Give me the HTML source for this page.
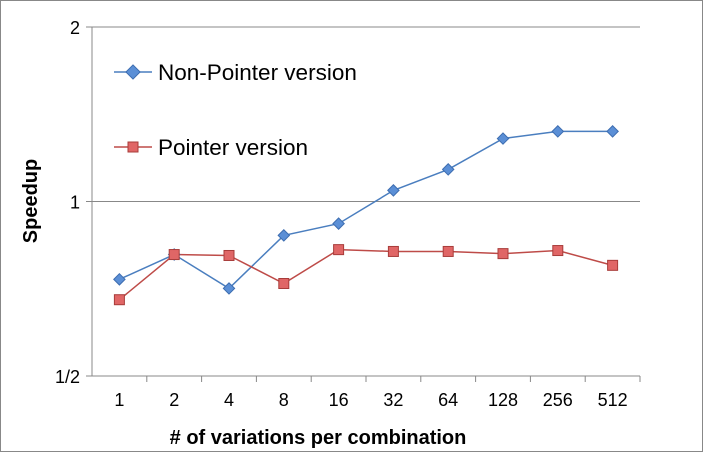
<!DOCTYPE html>
<html><head><meta charset="utf-8"><style>
html,body{margin:0;padding:0;background:#fff;}
svg{display:block;font-family:"Liberation Sans",sans-serif;}
</style></head><body>
<svg id="chart" width="703" height="452" viewBox="0 0 703 452">
<rect x="0.5" y="0.5" width="702" height="451" fill="#fff" stroke="#888"/>
<g id="grid"></g><g id="axes"></g><g id="series"></g>
<g>
<line x1="114" y1="72" x2="152" y2="72" stroke="#4a7ebf" stroke-width="1.5"/>
<rect x="128" y="67" width="10" height="10" transform="rotate(45 133 72)" fill="#5b8fd6" stroke="#3d6db0"/>
<text x="158" y="80" font-size="22.5" fill="#000">Non-Pointer version</text>
<line x1="114" y1="147" x2="152" y2="147" stroke="#be4b48" stroke-width="1.5"/>
<rect x="128" y="142" width="10" height="10" fill="#e06666" stroke="#a83c3a"/>
<text x="158" y="155" font-size="22.5" fill="#000">Pointer version</text>
</g>
<text x="318" y="444" font-size="20" font-weight="bold" text-anchor="middle"># of variations per combination</text>
<text transform="translate(37 201) rotate(-90)" font-size="20" font-weight="bold" text-anchor="middle">Speedup</text>
</svg>
<script>
const categories=["1","2","4","8","16","32","64","128","256","512"];
const nonPointer=[0.734,0.810,0.708,0.874,0.916,1.045,1.136,1.284,1.321,1.321];
const pointer=[0.677,0.810,0.807,0.722,0.826,0.820,0.820,0.813,0.823,0.776];
const yTicks=[0.5,1,2];
const yTickLabels=["1/2","1","2"];
const NS="http://www.w3.org/2000/svg";
const L=92,R=640,T=27,B=376;
const step=(R-L)/categories.length;
const xs=i=>L+step*(i+0.5);
const ys=v=>B-(Math.log2(v)+1)/2*(B-T);
function mk(t,a,p){const e=document.createElementNS(NS,t);for(const k in a)e.setAttribute(k,a[k]);p.appendChild(e);return e;}
const grid=document.getElementById('grid'),axes=document.getElementById('axes'),ser=document.getElementById('series');
yTicks.forEach((v,i)=>{
 if(v!==0.5){const g=mk('line',{x1:L,x2:R,y1:ys(v),y2:ys(v),stroke:'#888','stroke-width':1},grid);
 
 }
 mk('line',{x1:L-6,x2:L,y1:ys(v),y2:ys(v),stroke:'#888'},axes);
 const t=mk('text',{x:L-12,y:ys(v)+7,'font-size':18,'text-anchor':'end'},axes);t.textContent=yTickLabels[i];
 
 
});
mk('line',{x1:L,x2:L,y1:T,y2:B,stroke:'#888'},axes);
mk('line',{x1:L,x2:R,y1:B,y2:B,stroke:'#888'},axes);
categories.forEach((c,i)=>{
 mk('line',{x1:L+step*(i+1),x2:L+step*(i+1),y1:B,y2:B+6,stroke:'#888'},axes);
 const t=mk('text',{x:xs(i),y:B+30,'font-size':18,'text-anchor':'middle'},axes);t.textContent=c;
 
 
});
function line(data,color){
 const p=mk('polyline',{points:data.map((v,i)=>xs(i)+','+ys(v)).join(' '),fill:'none',stroke:color,'stroke-width':1.5},ser);
 
 
}
line(nonPointer,'#4a7ebf');line(pointer,'#be4b48');
nonPointer.forEach((v,i)=>{const m=mk('rect',{x:xs(i)-4,y:ys(v)-4,width:8,height:8,transform:`rotate(45 ${xs(i)} ${ys(v)})`,fill:'#5b8fd6',stroke:'#3d6db0'},ser);
 
 });
pointer.forEach((v,i)=>{const m=mk('rect',{x:xs(i)-5,y:ys(v)-5,width:10,height:10,fill:'#e06666',stroke:'#a83c3a'},ser);
 
 });
</script>
</body></html>
